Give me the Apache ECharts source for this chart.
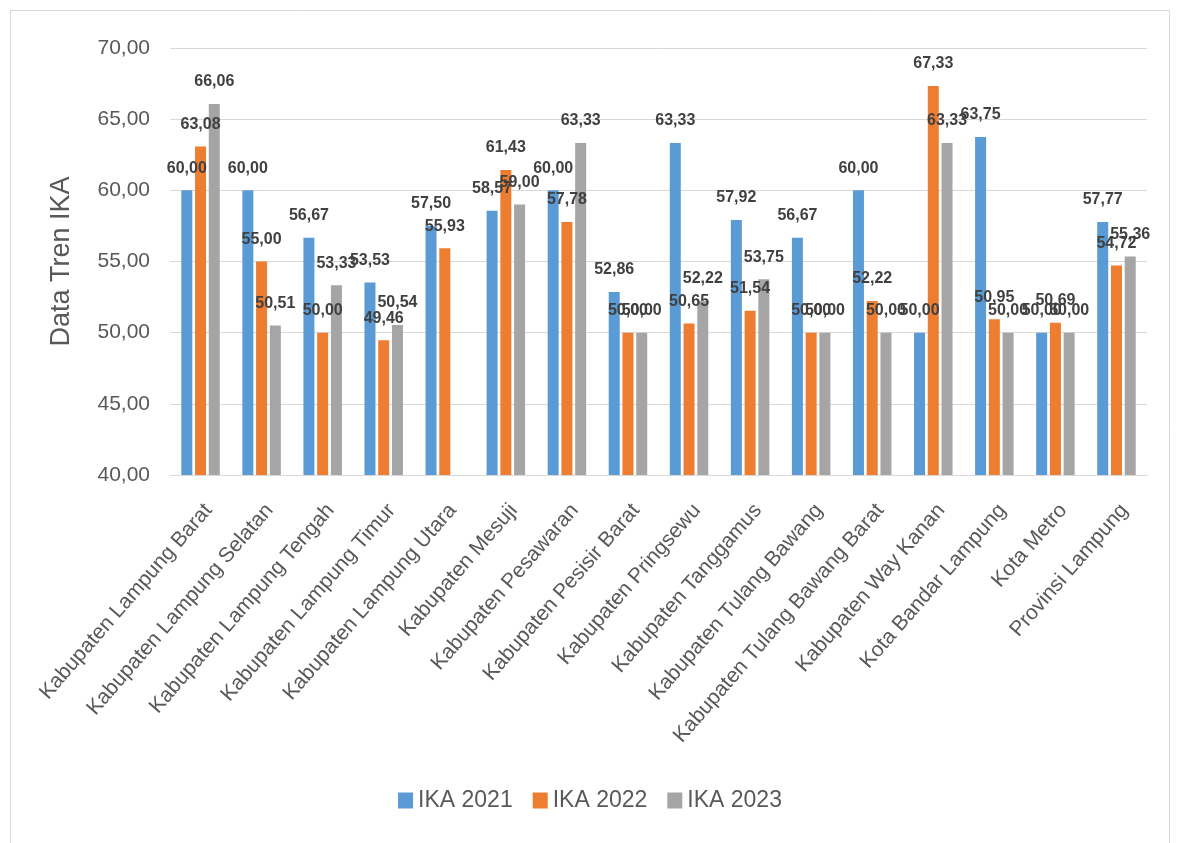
<!DOCTYPE html>
<html>
<head>
<meta charset="utf-8">
<script src="https://cdn.jsdelivr.net/npm/echarts@6/dist/echarts.min.js"></script>
<style>
html,body{margin:0;padding:0;background:#fff;}
#c{width:1180px;height:843px;}
</style>
</head>
<body>
<div id="c"></div>
<script>
const categories = [
  'Kabupaten Lampung Barat','Kabupaten Lampung Selatan','Kabupaten Lampung Tengah','Kabupaten Lampung Timur',
  'Kabupaten Lampung Utara','Kabupaten Mesuji','Kabupaten Pesawaran','Kabupaten Pesisir Barat',
  'Kabupaten Pringsewu','Kabupaten Tanggamus','Kabupaten Tulang Bawang','Kabupaten Tulang Bawang Barat',
  'Kabupaten Way Kanan','Kota Bandar Lampung','Kota Metro','Provinsi Lampung'
];
const ika2021 = [60.00,60.00,56.67,53.53,57.50,58.57,60.00,52.86,63.33,57.92,56.67,60.00,50.00,63.75,50.00,57.77];
const ika2022 = [63.08,55.00,50.00,49.46,55.93,61.43,57.78,50.00,50.65,51.54,50.00,52.22,67.33,50.95,50.69,54.72];
const ika2023 = [66.06,50.51,53.33,50.54,null,59.00,63.33,50.00,52.22,53.75,50.00,50.00,63.33,50.00,50.00,55.36];
const seriesNames = ['IKA 2021','IKA 2022','IKA 2023'];
const yTicks = {min:40, max:70, interval:5};

const colors = ['#5B9BD5','#ED7D31','#A5A5A5'];
const fmt = v => Number(v).toFixed(2).replace('.', ',');
const chart = echarts.init(document.getElementById('c'));
const mk = (name, data, color) => ({
  name, type:'bar', data,
  barWidth: 11, barGap: '25%',
  itemStyle:{color},
  label:{show:true, position:'top', distance:14, color:'#404040',
    fontFamily:'Liberation Sans Narrow, Liberation Sans, sans-serif', fontSize:16, fontWeight:'bold',
    formatter: p => p.value == null ? '' : fmt(p.value)}
});
chart.setOption({
  animation:false,
  backgroundColor:'#fff',
  graphic:[{type:'rect', shape:{x:10.5,y:10.5,width:1159,height:840}, style:{fill:'none', stroke:'#D9D9D9', lineWidth:1}}],
  grid:{left:170, right:33, top:48, bottom:368},
  legend:{bottom:26, left:'center', itemWidth:15, itemHeight:16, itemGap:20,
    icon:'rect',
    textStyle:{fontFamily:'Liberation Sans Narrow, Liberation Sans, sans-serif', fontSize:23, color:'#595959'},
    data: seriesNames},
  xAxis:{type:'category', data:categories,
    axisLine:{lineStyle:{color:'#D9D9D9'}}, axisTick:{show:false},
    axisLabel:{rotate:49, interval:0, margin:25, verticalAlign:'top', color:'#595959',
      fontFamily:'Liberation Sans, sans-serif', fontSize:21}},
  yAxis:{type:'value', min:yTicks.min, max:yTicks.max, interval:yTicks.interval,
    name:'Data Tren IKA', nameLocation:'middle', nameGap:95, nameRotate:90,
    nameTextStyle:{fontFamily:'Liberation Sans, sans-serif', fontSize:27, color:'#595959'},
    axisLine:{show:false}, axisTick:{show:false},
    splitLine:{lineStyle:{color:'#D9D9D9'}},
    axisLabel:{formatter: v => fmt(v), color:'#595959', margin:20,
      fontFamily:'Liberation Sans Narrow, Liberation Sans, sans-serif', fontSize:21}},
  series:[mk(seriesNames[0], ika2021, colors[0]), mk(seriesNames[1], ika2022, colors[1]), mk(seriesNames[2], ika2023, colors[2])]
});
</script>
</body>
</html>
